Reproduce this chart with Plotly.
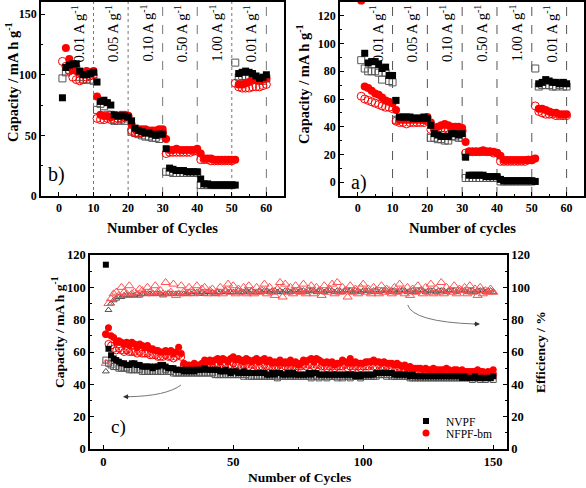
import plotly.graph_objects as go

# ---------------- data ----------------
cycles60 = list(range(1, 61))
cycles150 = list(range(1, 151))

# panel b) (top-left)
b_nvpf_fill = [81, 106, 108, 109, 109, 103, 100, 100, 101, 102,
               94, 78, 79, 77, 75, 67, 66, 66, 66, 65,
               62, 56, 54, 53, 52, 52, 51, 50, 51, 51,
               39, 23, 22, 21, 21, 21, 20, 20, 20, 20,
               14, 10, 10, 9, 9, 9, 9, 9, 9, 9,
               9, 101, 102, 103, 102, 101, 99, 97, 98, 100]
b_nvpf_open = [97, 102, 104, 105, 105, 98, 96, 96, 96, 95,
               71, 76, 74, 67, 67, 62, 62, 63, 62, 64,
               53, 52, 51, 50, 49, 49, 48, 48, 47, 50,
               20, 20, 19, 19, 19, 19, 19, 19, 19, 19,
               9, 9, 9, 9, 9, 9, 9, 9, 9, 9,
               110, 98, 99, 99, 98, 96, 96, 95, 95, 97]
b_nfpf_fill = [None, 122, 113, 104, 103, 102, 101, 103, 102, 103,
               82, 67, 66, 66, 65, 66, 66, 67, 67, 66,
               59, 55, 55, 55, 55, 54, 54, 54, 55, 55,
               47, 38, 38, 39, 38, 38, 38, 38, 38, 39,
               35, 31, 31, 31, 30, 30, 30, 30, 30, 30,
               30, 92, 92, 93, 94, 96, 96, 96, 96, 97]
b_nfpf_open = [111, 107, 103, 98, 96, 95, 96, 98, 99, 100,
               64, 63, 63, 64, 63, 63, 64, 64, 65, 66,
               54, 52, 52, 52, 53, 53, 53, 53, 53, 52,
               35, 36, 36, 36, 36, 36, 36, 36, 37, 37,
               30, 30, 30, 29, 29, 29, 29, 29, 29, 29,
               93, 90, 89, 89, 89, 90, 90, 90, 91, 92]

# panel a) (top-right)
a_nvpf_fill = [None, 93, 86, 87, 87, 85, 82, 83, 77, 77,
               59, 47, 47, 47, 47, 46, 46, 46, 47, 46,
               41, 35, 34, 33, 33, 33, 35, 35, 34, 35,
               18, 5, 5, 5, 5, 5, 4, 4, 4, 4,
               2, 1, 1, 1, 1, 1, 1, 1, 1, 1,
               0.5, 71, 72, 74, 73, 72, 72, 71, 72, 71]
a_nvpf_open = [88, 82, 80, 80, 80, 79, 74, 79, 73, 72,
               45, 46, 46, 46, 46, 46, 46, 46, 45, 45,
               32, 32, 31, 31, 30, 30, 33, 33, 32, 32,
               3, 3, 3, 3, 3, 3, 3, 3, 3, 3,
               0.5, 0.5, 0.5, 0.5, 0.5, 0.5, 0.5, 0.5, 0.5, 0.5,
               82, 69, 70, 70, 70, 69, 69, 70, 69, 69]
a_nfpf_fill = [131, 69, 68, 66, 64, 63, 61, 59, 58, 57,
               52, 45, 45, 45, 45, 45, 45, 45, 45, 47,
               43, 39, 40, 41, 42, 41, 40, 40, 40, 39,
               29, 22, 22, 22, 22, 23, 22, 22, 22, 21,
               19, 16, 16, 16, 16, 16, 16, 16, 16, 16,
               17, 53, 53, 52, 51, 50, 50, 49, 49, 49]
a_nfpf_open = [62, 60, 59, 58, 57, 56, 55, 54, 54, 53,
               44, 43, 43, 42, 43, 43, 43, 43, 43, 44,
               38, 38, 38, 39, 39, 38, 38, 38, 38, 37,
               21, 22, 22, 22, 22, 22, 22, 22, 21, 21,
               15, 15, 15, 15, 15, 15, 15, 15, 16, 16,
               55, 51, 50, 49, 49, 49, 48, 48, 48, 48]

rate_labels = ["0.01", "0.05", "0.10", "0.50", "1.00", "0.01"]
rate_pos = [5.5, 15.5, 25.5, 35.5, 45.5, 55.5]
rate_bounds = [10, 20, 30, 40, 50, 60]

# panel c) (bottom) long cycling
c_nvpf_fill = [114, 62, 58, 56, 55, 54, 53, 53, 52, 52,
               53, 53, 52, 52, 51, 51, 51, 51, 50, 51,
               51, 52, 52, 51, 50, 50, 50, 49, 49, 49,
               48, 49, 48, 49, 48, 49, 49, 49, 50, 49,
               49, 49, 49, 49, 48, 48, 49, 48, 47, 48,
               48, 47, 47, 48, 47, 47, 47, 47, 47, 47,
               47, 47, 46, 46, 47, 46, 47, 47, 46, 46,
               47, 46, 47, 46, 46, 46, 46, 46, 47, 46,
               47, 47, 46, 46, 46, 46, 46, 46, 46, 46,
               46, 46, 46, 46, 46, 46, 45, 46, 45, 46,
               46, 46, 46, 46, 47, 47, 47, 47, 47, 47,
               47, 46, 46, 46, 46, 46, 46, 45, 46, 45,
               45, 45, 45, 45, 45, 45, 45, 45, 45, 45,
               45, 45, 45, 45, 45, 45, 45, 44, 45, 44,
               44, 44, 45, 44, 44, 44, 44, 44, 44, 45]
c_nvpf_open = [55, 53, 52, 51, 51, 50, 50, 50, 50, 49,
               49, 49, 49, 49, 48, 48, 48, 48, 48, 48,
               48, 48, 48, 49, 48, 48, 47, 47, 47, 47,
               47, 47, 47, 47, 47, 47, 47, 47, 47, 47,
               47, 47, 46, 46, 46, 46, 46, 46, 46, 46,
               46, 46, 46, 45, 46, 45, 45, 45, 45, 45,
               45, 45, 45, 45, 45, 45, 44, 45, 45, 45,
               45, 45, 45, 45, 45, 45, 45, 45, 45, 44,
               45, 45, 44, 45, 45, 44, 45, 45, 45, 44,
               45, 44, 45, 45, 44, 45, 45, 45, 44, 45,
               45, 45, 45, 45, 45, 46, 46, 46, 45, 46,
               45, 45, 45, 45, 45, 45, 45, 44, 44, 44,
               44, 44, 44, 44, 44, 44, 44, 44, 44, 44,
               44, 44, 44, 44, 44, 44, 44, 44, 44, 44,
               44, 43, 44, 44, 43, 44, 43, 44, 44, 43]
c_nfpf_fill = [71, 75, 70, 69, 66, 67, 66, 65, 66, 64,
               66, 65, 63, 65, 64, 63, 64, 62, 62, 61,
               61, 60, 60, 61, 60, 61, 59, 60, 63, 59,
               53, 52, 52, 51, 53, 52, 52, 53, 55, 54,
               55, 54, 55, 56, 54, 56, 55, 54, 56, 57,
               55, 56, 55, 54, 56, 55, 54, 55, 56, 54,
               55, 56, 54, 55, 53, 54, 53, 55, 53, 54,
               53, 55, 53, 54, 52, 53, 55, 54, 55, 56,
               54, 56, 55, 54, 53, 54, 53, 54, 52, 53,
               53, 55, 54, 53, 56, 53, 54, 53, 53, 53,
               54, 54, 54, 55, 54, 54, 53, 54, 53, 53,
               53, 52, 53, 52, 51, 52, 50, 51, 50, 50,
               50, 50, 49, 50, 49, 49, 50, 49, 49, 49,
               49, 50, 49, 48, 49, 49, 48, 49, 48, 48,
               48, 48, 48, 49, 48, 48, 47, 48, 47, 49]
c_nfpf_open = [71, 65, 64, 62, 61, 62, 61, 60, 61, 60,
               60, 60, 59, 60, 59, 59, 59, 58, 58, 58,
               57, 57, 57, 58, 57, 57, 56, 57, 58, 57,
               52, 51, 51, 50, 51, 50, 51, 51, 52, 52,
               52, 51, 52, 52, 51, 52, 52, 51, 52, 53,
               52, 52, 51, 52, 52, 51, 52, 52, 51, 51,
               51, 52, 51, 51, 50, 51, 51, 52, 50, 51,
               50, 51, 51, 50, 51, 51, 52, 51, 52, 52,
               51, 52, 52, 51, 51, 50, 51, 51, 50, 51,
               51, 51, 52, 50, 51, 50, 51, 51, 50, 51,
               51, 51, 52, 51, 51, 52, 51, 51, 51, 50,
               50, 50, 49, 50, 49, 49, 48, 49, 47, 48,
               47, 48, 47, 47, 47, 46, 47, 47, 46, 47,
               46, 47, 46, 46, 46, 46, 46, 46, 46, 46,
               46, 46, 45, 46, 46, 45, 46, 46, 46, 46]
c_nvpf_eff = [48, 86, 90, 92, 93, 94, 94, 95, 95, 95,
              95, 95, 96, 95, 96, 96, 96, 96, 96, 96,
              96, 96, 95, 96, 96, 96, 96, 96, 96, 96,
              96, 96, 97, 96, 97, 97, 96, 97, 96, 97,
              97, 97, 96, 97, 97, 97, 98, 97, 97, 97,
              97, 98, 97, 97, 98, 97, 98, 97, 97, 98,
              97, 98, 98, 97, 98, 98, 97, 98, 97, 98,
              98, 97, 98, 98, 97, 98, 98, 97, 98, 98,
              98, 97, 98, 98, 97, 98, 98, 98, 97, 98,
              98, 97, 98, 98, 98, 97, 98, 98, 97, 98,
              98, 98, 97, 98, 98, 97, 98, 98, 98, 97,
              98, 98, 97, 98, 98, 98, 97, 98, 98, 97,
              98, 98, 98, 97, 98, 98, 98, 97, 98, 98,
              98, 97, 98, 98, 98, 97, 98, 98, 98, 97,
              98, 98, 97, 98, 98, 98, 97, 98, 98, 97]
c_nfpf_eff = [53, 90, 93, 96, 97, 95, 100, 97, 96, 101,
              96, 97, 95, 99, 98, 96, 100, 97, 96, 101,
              97, 98, 96, 103, 96, 97, 102, 95, 96, 101,
              97, 96, 100, 98, 96, 101, 97, 99, 100, 96,
              98, 99, 96, 97, 100, 96, 98, 102, 97, 101,
              96, 99, 97, 100, 96, 101, 97, 96, 100, 97,
              98, 102, 96, 100, 97, 95, 99, 103, 94, 102,
              97, 100, 96, 101, 98, 97, 102, 96, 99, 101,
              96, 100, 98, 95, 101, 97, 99, 102, 96, 103,
              97, 100, 98, 94, 101, 97, 99, 96, 100, 102,
              97, 99, 96, 100, 98, 96, 101, 97, 99, 98,
              96, 100, 97, 102, 98, 96, 100, 95, 99, 97,
              101, 98, 96, 100, 97, 102, 96, 99, 97, 103,
              96, 100, 98, 97, 101, 96, 99, 98, 100, 96,
              101, 97, 99, 95, 100, 96, 98, 97, 99, 97]

# ---------------- style ----------------
SERIF = "Liberation Serif, Times New Roman, Times, serif"
RED = "#ff0000"
BLK = "#000000"
GRAY = "#555555"

W, H = 586, 488


def px_x(p):
    return p / W


def px_y(p):
    return 1 - p / H


fig = go.Figure()


def add_panel(xa, ya, xs, fill_k, open_k, fill_r, open_r, size=7):
    fig.add_trace(go.Scatter(x=xs, y=open_k, mode="markers", xaxis=xa, yaxis=ya,
                             marker=dict(symbol="square-open", size=size, color=GRAY,
                                         line=dict(width=1, color=GRAY)), showlegend=False))
    fig.add_trace(go.Scatter(x=xs, y=open_r, mode="markers", xaxis=xa, yaxis=ya,
                             marker=dict(symbol="circle-open", size=size + 1, color=RED,
                                         line=dict(width=1, color=RED)), showlegend=False))
    fig.add_trace(go.Scatter(x=xs, y=fill_r, mode="markers", xaxis=xa, yaxis=ya,
                             marker=dict(symbol="circle", size=size + 1, color=RED), showlegend=False))
    fig.add_trace(go.Scatter(x=xs, y=fill_k, mode="markers", xaxis=xa, yaxis=ya,
                             marker=dict(symbol="square", size=size, color=BLK), showlegend=False))


add_panel("x", "y", cycles60, b_nvpf_fill, b_nvpf_open, b_nfpf_fill, b_nfpf_open)
add_panel("x2", "y2", cycles60, a_nvpf_fill, a_nvpf_open, a_nfpf_fill, a_nfpf_open)

# bottom panel
fig.add_trace(go.Scatter(x=cycles150, y=c_nvpf_eff, mode="markers", xaxis="x3", yaxis="y4",
                         marker=dict(symbol="triangle-up-open", size=6, color=GRAY,
                                     line=dict(width=1, color=GRAY)), showlegend=False))
fig.add_trace(go.Scatter(x=cycles150, y=c_nfpf_eff, mode="markers", xaxis="x3", yaxis="y4",
                         marker=dict(symbol="triangle-up-open", size=8, color="#ff5050",
                                     line=dict(width=1, color="#ff5050")), showlegend=False))
fig.add_trace(go.Scatter(x=cycles150, y=c_nvpf_open, mode="markers", xaxis="x3", yaxis="y3",
                         marker=dict(symbol="square-open", size=6, color=GRAY,
                                     line=dict(width=1, color=GRAY)), showlegend=False))
fig.add_trace(go.Scatter(x=cycles150, y=c_nfpf_open, mode="markers", xaxis="x3", yaxis="y3",
                         marker=dict(symbol="circle-open", size=7, color=RED,
                                     line=dict(width=1, color=RED)), showlegend=False))
fig.add_trace(go.Scatter(x=cycles150, y=c_nfpf_fill, mode="markers", xaxis="x3", yaxis="y3",
                         marker=dict(symbol="circle", size=7, color=RED), name="NFPF-bm",
                         showlegend=True, legend="legend2"))
fig.add_trace(go.Scatter(x=cycles150, y=c_nvpf_fill, mode="markers", xaxis="x3", yaxis="y3",
                         marker=dict(symbol="square", size=6, color=BLK), name="NVPF",
                         showlegend=True, legend="legend"))

tickfont_top = dict(family=SERIF, size=12, color=BLK, weight="bold")
tickfont_bot = dict(family=SERIF, size=12.5, color=BLK, weight="bold")
axis_common = dict(showline=True, linecolor=BLK, linewidth=1.5, mirror=True,
                   ticks="inside", ticklen=4, tickwidth=1, tickcolor=BLK,
                   showgrid=False, zeroline=False, automargin=False)
legend_font = dict(family=SERIF, size=11.5, color=BLK)

fig.update_layout(
    width=W, height=H,
    margin=dict(l=0, r=0, t=0, b=0),
    paper_bgcolor="white", plot_bgcolor="white",
    font=dict(family=SERIF),
    xaxis=dict(domain=[px_x(41), px_x(284)], anchor="y", range=[-5.2, 65.1], dtick=10,
               tickfont=tickfont_top, minor=dict(ticks="inside", ticklen=2, dtick=5, tickcolor=BLK),
               **axis_common),
    yaxis=dict(domain=[px_y(196), px_y(2)], anchor="x", range=[0, 160], dtick=50,
               tickfont=tickfont_top, minor=dict(ticks="inside", ticklen=2, dtick=25, tickcolor=BLK),
               **axis_common),
    xaxis2=dict(domain=[px_x(340), px_x(584)], anchor="y2", range=[-5.1, 65], dtick=10,
                tickfont=tickfont_top, minor=dict(ticks="inside", ticklen=2, dtick=5, tickcolor=BLK),
                **axis_common),
    yaxis2=dict(domain=[px_y(196), px_y(2)], anchor="x2", range=[-10, 130], dtick=20,
                tickfont=tickfont_top, minor=dict(ticks="inside", ticklen=2, dtick=10, tickcolor=BLK),
                **axis_common),
    xaxis3=dict(domain=[px_x(90), px_x(507)], anchor="y3", range=[-5.1, 155.3], dtick=50,
                tickfont=tickfont_bot, minor=dict(ticks="inside", ticklen=2, dtick=25, tickcolor=BLK),
                **axis_common),
    yaxis3=dict(domain=[px_y(449), px_y(255)], anchor="x3", range=[0, 120], dtick=20,
                tickfont=tickfont_bot, minor=dict(ticks="inside", ticklen=2, dtick=10, tickcolor=BLK),
                **axis_common),
    yaxis4=dict(overlaying="y3", anchor="x3", side="right", range=[0, 120], dtick=20,
                tickfont=tickfont_bot, showline=True, linecolor=BLK, linewidth=1.5,
                ticks="inside", ticklen=4, tickcolor=BLK, showgrid=False, zeroline=False,
                automargin=False,
                minor=dict(ticks="inside", ticklen=2, dtick=10, tickcolor=BLK)),
    legend=dict(x=px_x(406), y=px_y(421), xanchor="left", yanchor="middle",
                bgcolor="rgba(0,0,0,0)", font=legend_font, itemwidth=30),
    legend2=dict(x=px_x(406), y=px_y(433), xanchor="left", yanchor="middle",
                 bgcolor="rgba(0,0,0,0)", font=legend_font, itemwidth=30),
    showlegend=True,
)

# dashed rate boundaries and labels
left_dash = ["dot", "dot", "dash", "dash", "dot", "dash"]
for i, xb in enumerate(rate_bounds):
    fig.add_shape(type="line", xref="x", yref="y domain", x0=xb, x1=xb, y0=0, y1=1,
                  line=dict(color="#777777", width=1, dash=left_dash[i]), layer="below")
    fig.add_shape(type="line", xref="x2", yref="y2 domain", x0=xb, x1=xb, y0=0, y1=1,
                  line=dict(color="#555555", width=1, dash="dash"), layer="below")

for lab, xp in zip(rate_labels, rate_pos):
    for xr, yr in (("x", "y domain"), ("x2", "y2 domain")):
        fig.add_annotation(x=xp, y=0.995, xref=xr, yref=yr, text=f"{lab} A g<sup>-1</sup>",
                           textangle=-90, showarrow=False, xanchor="center", yanchor="top",
                           font=dict(family=SERIF, size=14.5, color=BLK))

# axis titles
title_font_top = dict(family=SERIF, size=14.5, color=BLK, weight="bold")
title_font_bot = dict(family=SERIF, size=13.5, color=BLK, weight="bold")
fig.add_annotation(x=px_x(12), y=px_y(82), xref="paper", yref="paper",
                   text="Capacity / mA h g<sup>-1</sup>", textangle=-90, showarrow=False,
                   font=title_font_top, xanchor="center", yanchor="middle")
fig.add_annotation(x=px_x(163), y=px_y(228), xref="paper", yref="paper",
                   text="Number of Cycles", showarrow=False, font=title_font_top,
                   xanchor="center", yanchor="middle")
fig.add_annotation(x=px_x(303), y=px_y(84), xref="paper", yref="paper",
                   text="Capacity / mA h g<sup>-1</sup>", textangle=-90, showarrow=False,
                   font=title_font_top, xanchor="center", yanchor="middle")
fig.add_annotation(x=px_x(462), y=px_y(228), xref="paper", yref="paper",
                   text="Number of cycles", showarrow=False, font=title_font_top,
                   xanchor="center", yanchor="middle")
fig.add_annotation(x=px_x(58), y=px_y(332), xref="paper", yref="paper",
                   text="Capacity / mA h g<sup>-1</sup>", textangle=-90, showarrow=False,
                   font=title_font_bot, xanchor="center", yanchor="middle")
fig.add_annotation(x=px_x(540), y=px_y(352), xref="paper", yref="paper",
                   text="Efficiency / %", textangle=-90, showarrow=False,
                   font=title_font_bot, xanchor="center", yanchor="middle")
fig.add_annotation(x=px_x(299), y=px_y(477), xref="paper", yref="paper",
                   text="Number of Cycles", showarrow=False, font=title_font_bot,
                   xanchor="center", yanchor="middle")

# panel labels
fig.add_annotation(x=-0.6, y=18, xref="x", yref="y", text="b)", showarrow=False,
                   font=dict(family=SERIF, size=20, color=BLK))
fig.add_annotation(x=0.3, y=0, xref="x2", yref="y2", text="a)", showarrow=False,
                   font=dict(family=SERIF, size=20, color=BLK))
fig.add_annotation(x=5.7, y=13.6, xref="x3", yref="y3", text="c)", showarrow=False,
                   font=dict(family=SERIF, size=19, color=BLK))

# curved arrows in bottom panel
fig.add_shape(type="path", xref="x3", yref="y3",
              path="M 29.9 39.6 Q 24.4 32.8 9.5 32.3",
              line=dict(color="#777777", width=1))
fig.add_annotation(x=7.6, y=32.3, ax=10.5, ay=32.3, xref="x3", yref="y3",
                   axref="x3", ayref="y3", text="", showarrow=True,
                   arrowhead=2, arrowsize=1, arrowwidth=1, arrowcolor="#333333")
fig.add_shape(type="path", xref="x3", yref="y3",
              path="M 117.1 89.1 Q 119.1 78.7 143.0 77.3",
              line=dict(color="#777777", width=1))
fig.add_annotation(x=144.9, y=77.3, ax=142.0, ay=77.3, xref="x3", yref="y3",
                   axref="x3", ayref="y3", text="", showarrow=True,
                   arrowhead=2, arrowsize=1, arrowwidth=1, arrowcolor="#333333")

fig.write_html("out.html", config={"displayModeBar": False},
               post_script="document.body.style.margin='0';document.body.style.overflow='hidden';")
